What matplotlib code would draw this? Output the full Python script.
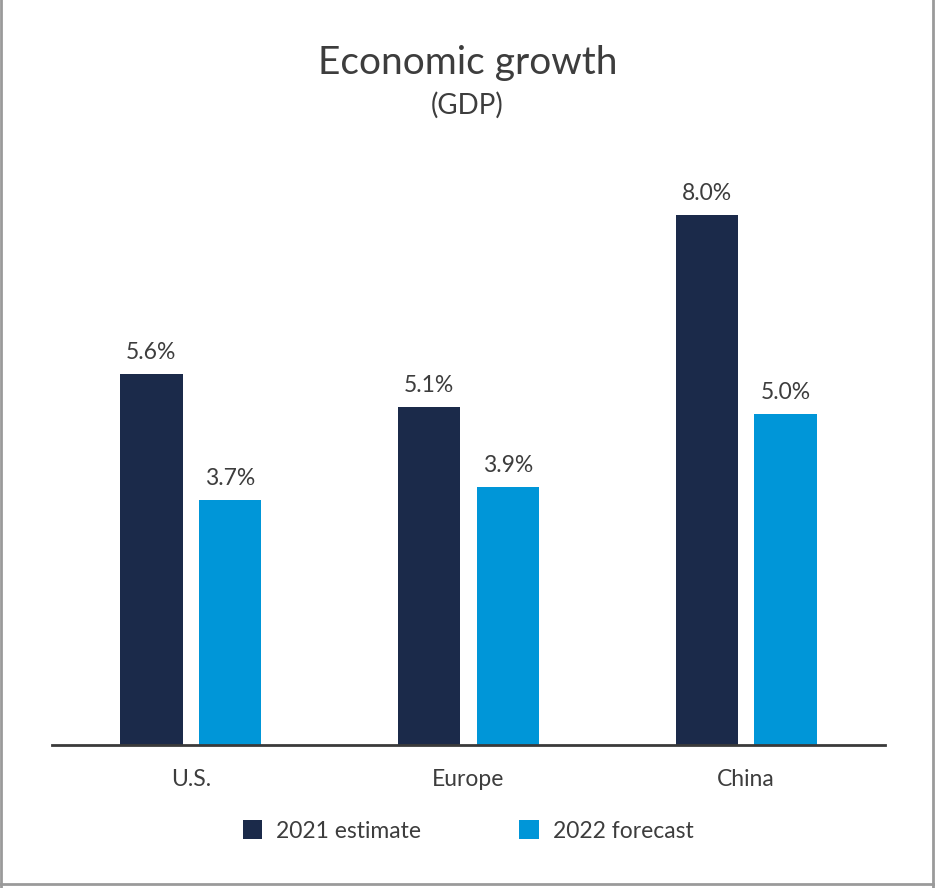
import matplotlib.pyplot as plt
from matplotlib.lines import Line2D
import numpy as np

plt.rcParams['font.family'] = ['Lato', 'DejaVu Sans']

regions = ['U.S.', 'Europe', 'China']
estimate_2021 = [5.6, 5.1, 8.0]
forecast_2022 = [3.7, 3.9, 5.0]
series_names = ['2021 estimate', '2022 forecast']

dark = '#1b2a4a'
light = '#0096d8'
text_color = '#3d3d3d'

fig = plt.figure(figsize=(9.35, 8.88), dpi=100)
ax = fig.add_axes([52 / 935, 143 / 888, 833 / 935, 596 / 888])

x = np.arange(len(regions))
w = 0.224
off = 0.142
b1 = ax.bar(x - off, estimate_2021, w, color=dark, label=series_names[0])
b2 = ax.bar(x + off, forecast_2022, w, color=light, label=series_names[1])

for bars in (b1, b2):
    for rect in bars:
        h = rect.get_height()
        ax.annotate('%.1f%%' % h, (rect.get_x() + rect.get_width() / 2, h),
                    xytext=(0, 8), textcoords='offset points',
                    ha='center', va='bottom', fontsize=16.5, color=text_color)

ax.set_xlim(-0.5, 2.5)
ax.set_ylim(0, 9)
ax.set_xticks(x)
ax.set_xticklabels(regions, fontsize=16.5, color=text_color)
ax.tick_params(axis='x', length=0, pad=17)
ax.set_yticks([])
for s in ['top', 'left', 'right']:
    ax.spines[s].set_visible(False)
ax.spines['bottom'].set_color('#3a3a3a')
ax.spines['bottom'].set_linewidth(2)

fig.text(0.5, 1 - 63 / 888, 'Economic growth', ha='center', va='center',
         fontsize=28, color=text_color)
fig.text(0.5, 1 - 105 / 888, '(GDP)', ha='center', va='center',
         fontsize=20, color=text_color)

leg = fig.legend(loc='center', bbox_to_anchor=(468 / 935, 1 - 831 / 888), ncol=2,
                 frameon=False, fontsize=16.5, handlelength=0.85, handleheight=0.85,
                 columnspacing=4.3, handletextpad=0.6)
for t in leg.get_texts():
    t.set_color(text_color)

# grey frame on left, right and bottom
border = '#9a9a9a'
fig.add_artist(Line2D([0.001, 0.001], [0, 1], color=border, lw=2))
fig.add_artist(Line2D([0.998, 0.998], [0, 1], color=border, lw=2))
fig.add_artist(Line2D([0, 1], [4 / 888, 4 / 888], color=border, lw=2))

fig.savefig('out.png', dpi=100)
